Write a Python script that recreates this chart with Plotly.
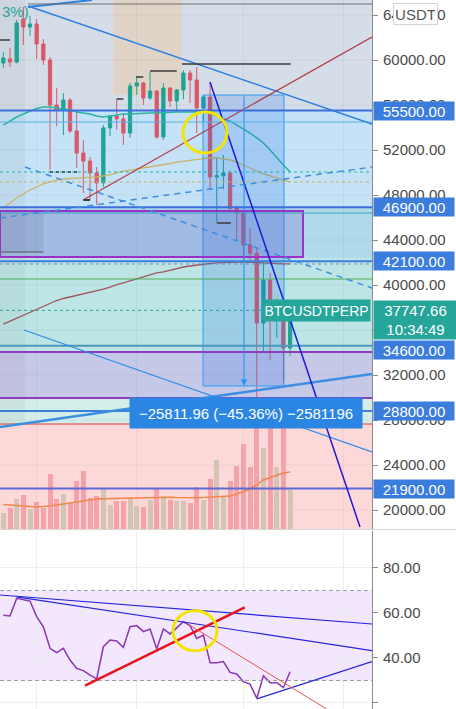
import pandas as pd
import plotly.graph_objects as go

# ---------------- data ----------------
dates = pd.date_range("2021-04-11", periods=44, freq="D")
opens = [59730, 60090, 59820, 63640, 62930, 63200, 61420, 60000, 56000, 55560,
         56440, 53690, 51730, 51020, 49960, 49070, 53960, 55020, 54760, 53510,
         57690, 57960, 56620, 57240, 53160, 57510, 56360, 57330, 58840, 58220,
         55730, 56710, 49600, 49700, 49950, 46800, 46400, 43560, 42840, 36620,
         40440, 37300, 37500, 34400]
highs = [60710, 61070, 63560, 64710, 63910, 63640, 61870, 60270, 57510, 57070,
         56620, 55380, 52890, 51380, 50490, 54220, 55110, 56530, 55290, 57960,
         58490, 58040, 58930, 57330, 57960, 57600, 57420, 59110, 59110, 59380,
         56890, 58040, 51380, 51560, 50150, 47000, 46490, 45070, 43300, 42040,
         41070, 38800, 38300, 38300]
lows = [59290, 59380, 59700, 61330, 62130, 60090, 59560, 50200, 54130, 53330,
        53510, 50400, 48180, 47560, 47110, 48710, 53240, 53780, 52440, 53070,
        56890, 56000, 56440, 52980, 52890, 55820, 55380, 56500, 56180, 53510,
        54400, 48440, 45600, 48500, 46670, 43900, 42220, 42220, 30000, 33960,
        33330, 35300, 31300, 33700]
closes = [60180, 59820, 63290, 62930, 63200, 61420, 60000, 56000, 55560, 56440,
          53690, 51730, 51020, 49960, 49070, 53960, 55020, 54760, 53510, 57690,
          57960, 56620, 57240, 53160, 57510, 56360, 57330, 58840, 58220, 55730,
          56710, 49600, 49700, 49950, 46800, 46400, 43560, 42840, 36620, 40440,
          37300, 37500, 34400, 37747.66]
volume_k = [163, 213, 297, 340, 203, 270, 213, 553, 297, 347,
            270, 480, 580, 313, 330, 407, 240, 280, 280, 307,
            230, 220, 293, 407, 330, 293, 280, 280, 260, 420,
            293, 500, 690, 320, 480, 630, 850, 620, 1150, 810,
            1020, 620, 1040, 390]
volume_ma_k = [245, 240, 235, 230, 225, 220, 225, 230, 240, 250,
               260, 270, 280, 290, 300, 302, 304, 306, 308, 310,
               312, 314, 316, 318, 320, 318, 315, 312, 310, 313,
               316, 320, 323, 326, 330, 350, 375, 400, 440, 490,
               515, 540, 560, 570]
ma_fast = [54220, 54580, 54930, 55200, 55470, 55690, 55820, 55820, 55730, 55640,
           55560, 55380, 55290, 55200, 55020, 54930, 55020, 55110, 55200, 55200,
           55240, 55290, 55290, 55290, 55330, 55380, 55380, 55380, 55380, 55380,
           55380, 55290, 55020, 54760, 54580, 54220, 53870, 53510, 53070, 52620,
           52000, 51380, 50670, 50040]
ma_mid = [46840, 47290, 47730, 48090, 48440, 48710, 48980, 49160, 49330, 49420,
          49470, 49510, 49510, 49560, 49600, 49690, 49780, 49960, 50130, 50220,
          50310, 50400, 50490, 50580, 50670, 50800, 50930, 51020, 51110, 51200,
          51240, 51290, 51290, 51200, 51110, 50930, 50670, 50400, 50130, 49870,
          49690, 49510, 49330, 49160]
ma_slow = [36530, 36800, 37070, 37330, 37600, 37870, 38130, 38400, 38620, 38800,
           38930, 39110, 39240, 39380, 39470, 39640, 39820, 40040, 40180, 40360,
           40530, 40710, 40890, 41070, 41160, 41330, 41470, 41600, 41690, 41780,
           41870, 41910, 41960, 42000, 42040, 42040, 42040, 42040, 42000, 41960,
           41960, 41910, 41870, 41870]
rsi = [59.0, 58.7, 66.5, 65.8, 65.3, 58.4, 53.9, 44.3, 42.4, 44.3,
       39.1, 35.4, 34.4, 32.4, 30.7, 45.0, 48.0, 47.6, 44.7, 53.9,
       54.4, 51.7, 52.9, 44.0, 52.9, 50.7, 53.6, 56.1, 54.4, 48.7,
       50.2, 37.9, 37.9, 38.4, 33.6, 32.9, 29.5, 28.4, 22.1, 32.1,
       29.0, 29.0, 26.8, 33.9]
level_labels = [55500, 46900, 42100, 34600, 28800, 21900]
last_price = 37747.66
countdown = "10:34:49"
symbol = "BTCUSDTPERP"
range_text = "−25811.96 (−45.36%) −2581196"
price_ticks = list(range(20000, 64001, 4000))
rsi_ticks = [20, 40, 60, 80]
grid_dates = ["2021-04-16", "2021-05-01", "2021-05-17", "2021-06-01"]

# ---------------- drawings (in date-index / price space) ----------------
zones = [(55500, 65333, "#d5dee8"), (46900, 55500, "#c5e2f7"),
         (42400, 46900, "#b0d9ea"), (34000, 42400, "#bde5e5"),
         (29956, 34000, "#c6c8e8"), (27644, 29956, "#d3eeea"),
         (18311, 27644, "#fdd8d8")]
hlines = [(55500, "#3a6fdc", 2, "solid"), (54489, "#5aaee8", 1, "solid"),
          (46900, "#3a6fdc", 2, "solid"), (46400, "#3aa3c6", 1, "solid"),
          (42100, "#3a7fdc", 2, "solid"), (41867, "#7a8aa0", 1, "dot"),
          (40533, "#4caf50", 1, "solid"), (last_price, "#26a69a", 1, "dot"),
          (34600, "#4f96bd", 2, "solid"), (34044, "#8e3bbd", 2, "solid"),
          (29956, "#8e3bbd", 2, "solid"), (28800, "#3a7fdc", 2, "solid"),
          (27644, "#e53935", 1, "solid"), (21900, "#5b68d6", 2, "solid"),
          (50044, "#1fb5a5", 1, "dot"), (49156, "#c8b060", 1, "dot")]
trendlines = [((3.70, 64800), (55.28, 54311), "#2e7fe0", 1.5, "solid"),
              ((3.70, 64711), (13.3, 65333), "#2e7fe0", 2, "solid"),
              ((-0.5, 27377), (55.28, 32089), "#3b8ee0", 2.5, "solid"),
              ((3.10, 36000), (55.28, 25155), "#2f8be6", 1.3, "solid"),
              ((3.25, 50489), (55.28, 39733), "#3d8fe0", 1.5, "6px,5px"),
              ((-0.5, 45955), (55.28, 50489), "#3d8fe0", 1.5, "6px,5px"),
              ((11.95, 47555), (55.28, 62044), "#b23a48", 1.2, "solid"),
              ((30.99, 58044), (53.48, 18489), "#1c1ad8", 1.5, "solid")]
pivots = [((-0.5, 61778), (1.0, 61778), "#3a3a3a", 1.5, "solid"),
          ((17.0, 56533), (18.0, 56533), "#3a3a3a", 1.5, "solid"),
          ((19.9, 58489), (21.0, 58489), "#3a3a3a", 1.5, "solid"),
          ((22.0, 59022), (26.0, 59022), "#3a3a3a", 1.5, "solid"),
          ((26.8, 59644), (43.1, 59644), "#3a3a3a", 1.5, "solid"),
          ((7.0, 50044), (11.2, 50044), "#3a3a3a", 1.5, "dot"),
          ((12.0, 47556), (13.0, 47556), "#3a3a3a", 2, "solid"),
          ((32.0, 45511), (34.1, 45511), "#3a3a3a", 1.5, "solid"),
          ((3.7, 64978), (55.28, 64978), "#707070", 1, "solid"),
          ((-0.5, 42933), (6.0, 42933), "#6c7280", 1.5, "solid")]
rsi_lines = [((-0.5, 68.0), (55.28, 55.1), "#2626d9", 1.2),
             ((2.0, 67.2), (55.28, 43.3), "#2626d9", 1.2),
             ((38.0, 21.8), (55.28, 38.4), "#2626d9", 1.2),
             ((12.25, 27.7), (36.2, 62.5), "#e8141c", 2.5),
             ((27.5, 55.4), (48.5, 17.3), "#e8534a", 1)]
measure_box = (29.94, 42.08, 31022, 56889)
purple_box = (-0.5, 44.93, 42489, 46578)
gray_box = (-0.5, 6.0, 42933, 46400)
circle_price = (26.94, 33.54, 51733, 55378)
circle_rsi = (25.44, 32.04, 43.2, 61.0)

# ---------------- geometry ----------------
W, H = 456, 709
AX_X = 372
P_RANGE = [18311, 65333]
R_RANGE = [17.33, 96.44]
BASE = pd.Timestamp("2021-04-11")
X0, X1 = -0.5, 55.28
FONT = "Liberation Sans, Arial, sans-serif"


def kd(k):
    return (BASE + pd.Timedelta(days=k)).strftime("%Y-%m-%d %H:%M:%S")


shapes = []


def line(a, b, color, width, dash="solid", xref="x", yref="y", layer="above"):
    shapes.append(dict(type="line", xref=xref, yref=yref, x0=kd(a[0]), y0=a[1],
                       x1=kd(b[0]), y1=b[1], layer=layer,
                       line=dict(color=color, width=width, dash=dash)))


def rect(k0, k1, p0, p1, fill, lcolor=None, lwidth=0, xref="x", yref="y", layer="below"):
    shapes.append(dict(type="rect", xref=xref, yref=yref, x0=kd(k0), x1=kd(k1),
                       y0=p0, y1=p1, fillcolor=fill, layer=layer,
                       line=dict(color=lcolor or "rgba(0,0,0,0)", width=lwidth)))


# background zones
for lo, hi, col in zones:
    rect(X0, X1, lo, hi, col)
rect(X0, 3.25, 27644, 65333, "rgba(110,120,110,0.08)")
rect(16.45, 26.8, 56889, 65333, "rgba(235,200,160,0.45)")
for g in grid_dates:
    k = (pd.Timestamp(g) - BASE).days
    line((k, P_RANGE[0]), (k, P_RANGE[1]), "rgba(0,0,0,0.05)", 1, layer="below")
for t in price_ticks:
    line((X0, t), (X1, t), "rgba(0,0,0,0.04)", 1, layer="below")

# overlays above candles
mk0, mk1, mp0, mp1 = measure_box
rect(mk0, mk1, mp0, mp1, "rgba(30,110,230,0.2)", "rgba(33,150,243,0.9)", 1, layer="above")
pk0, pk1, pp0, pp1 = purple_box
rect(pk0, pk1, pp0, pp1, "rgba(110,80,200,0.22)", "#9b30c8", 2, layer="above")
gk0, gk1, gp0, gp1 = gray_box
rect(gk0, gk1, gp0, gp1, "rgba(90,95,110,0.14)", layer="above")
for p, col, w, d in hlines:
    line((X0, p), (X1, p), col, w, d)
for a, b, col, w, d in trendlines + pivots:
    line(a, b, col, w, d)
ck0, ck1, cp0, cp1 = circle_price
shapes.append(dict(type="circle", xref="x", yref="y", x0=kd(ck0), x1=kd(ck1),
                   y0=cp0, y1=cp1, line=dict(color="#f2e600", width=3)))

# RSI pane drawings
rect(X0, X1, 30, 70, "rgba(149,60,230,0.12)", xref="x2", yref="y2")
for lv in (70, 30):
    line((X0, lv), (X1, lv), "#9e9e9e", 1, "4px,3px", xref="x2", yref="y2")
for a, b, col, w in rsi_lines:
    line(a, b, col, w, xref="x2", yref="y2")
rk0, rk1, rp0, rp1 = circle_rsi
shapes.append(dict(type="circle", xref="x2", yref="y2", x0=kd(rk0), x1=kd(rk1),
                   y0=rp0, y1=rp1, line=dict(color="#f2e600", width=3)))
# pane separator
shapes.append(dict(type="line", xref="paper", yref="paper", x0=0, x1=1,
                   y0=1 - 529.5 / H, y1=1 - 529.5 / H,
                   line=dict(color="#d6d6d6", width=1)))

# ---------------- traces ----------------
fig = go.Figure()
vol_colors = ["#d4c4b4" if c >= o else "#f5a3ab" for o, c in zip(opens, closes)]
fig.add_trace(go.Bar(x=dates, y=volume_k, marker=dict(color=vol_colors, line=dict(width=0)),
                     width=0.75 * 86400000, xaxis="x", yaxis="y3"))
fig.add_trace(go.Scatter(x=dates, y=volume_ma_k, mode="lines",
                         line=dict(color="#f0884a", width=1.5), xaxis="x", yaxis="y3"))
fig.add_trace(go.Scatter(x=dates, y=ma_slow, mode="lines",
                         line=dict(color="#a0565e", width=1.3), xaxis="x", yaxis="y"))
fig.add_trace(go.Scatter(x=dates, y=ma_mid, mode="lines",
                         line=dict(color="#c9b46a", width=1.3), xaxis="x", yaxis="y"))
fig.add_trace(go.Scatter(x=dates, y=ma_fast, mode="lines",
                         line=dict(color="#2bb5a0", width=1.5), xaxis="x", yaxis="y"))
fig.add_trace(go.Candlestick(
    x=dates, open=opens, high=highs, low=lows, close=closes,
    increasing=dict(line=dict(color="#1fa393", width=1), fillcolor="#1fa393"),
    decreasing=dict(line=dict(color="#d9596a", width=1), fillcolor="#d9596a"),
    whiskerwidth=0, xaxis="x", yaxis="y"))
fig.add_trace(go.Scatter(x=dates, y=rsi, mode="lines",
                         line=dict(color="#8b35b5", width=1.5), xaxis="x2", yaxis="y2"))

# ---------------- annotations ----------------
ann = []
LX = (AX_X + 1) / W
for lv in level_labels:
    ann.append(dict(xref="paper", yref="y", x=LX, y=lv, xanchor="left", yanchor="middle",
                    yshift=-4 if lv == 34600 else 0,
                    text=f"{lv:.2f}", showarrow=False, bgcolor="#3b7ddd",
                    font=dict(family=FONT, size=15, color="white"),
                    width=76, height=14, borderpad=2))
ann.append(dict(xref="paper", yref="y", x=LX, y=last_price, xanchor="left", yanchor="top",
                yshift=10, text=f"{last_price:.2f}<br>{countdown}", showarrow=False,
                bgcolor="#26a69a", font=dict(family=FONT, size=15, color="white"),
                width=79, height=34, borderpad=2))
ann.append(dict(xref="paper", yref="y", x=316.5 / W, y=last_price, xanchor="center",
                yanchor="middle", text=symbol, showarrow=False, bgcolor="#26a69a",
                font=dict(family=FONT, size=14, color="white"), width=103, height=17,
                borderpad=2))
ann.append(dict(xref="paper", yref="paper", x=415.5 / W, y=1 - 14 / H, xanchor="center",
                yanchor="middle", text="USDT", showarrow=False, bgcolor="white",
                bordercolor="#d1d4dc", borderwidth=1,
                font=dict(family=FONT, size=15, color="#555"), width=39, height=16,
                borderpad=2))
ann.append(dict(xref="paper", yref="paper", x=0, y=1 - 12 / H, xanchor="left",
                yanchor="middle", text="3%)", showarrow=False,
                font=dict(family=FONT, size=15, color="#26a69a")))
ann.append(dict(xref="paper", yref="paper", x=246 / W, y=1 - 413 / H, xanchor="center",
                yanchor="middle", text=range_text, showarrow=False, bgcolor="#2b86e3",
                font=dict(family=FONT, size=15, color="white"), width=226, height=24,
                borderpad=3))
arrow_k = 36.1
ann.append(dict(xref="x", yref="y", x=kd(arrow_k), y=mp0, axref="x", ayref="y",
                ax=kd(arrow_k), ay=mp1, text="", showarrow=True, arrowhead=2,
                arrowsize=1.3, arrowwidth=1, arrowcolor="#2196f3"))

axis_common = dict(side="right", ticks="outside", ticklen=5, tickcolor="#8c8c8c",
                   showline=True, linecolor="#8c8c8c", linewidth=1, zeroline=False,
                   tickformat=".2f", ticklabelstandoff=2,
                   tickfont=dict(family=FONT, size=15, color="#4a4a4a"))

fig.update_layout(
    width=W, height=H, margin=dict(l=0, r=0, t=0, b=0),
    paper_bgcolor="white", plot_bgcolor="white", showlegend=False,
    hovermode=False, dragmode=False, bargap=0,
    shapes=shapes, annotations=ann,
    xaxis=dict(domain=[0, AX_X / W], range=[kd(X0), kd(X1)], type="date", anchor="y",
               showticklabels=False, showgrid=False, zeroline=False,
               rangeslider=dict(visible=False)),
    xaxis2=dict(domain=[0, AX_X / W], matches="x", type="date", anchor="y2",
                showticklabels=False, showgrid=True, gridcolor="#eceef2",
                tickvals=grid_dates, zeroline=False),
    yaxis=dict(domain=[1 - 529 / H, 1], range=P_RANGE, anchor="x", tickvals=price_ticks,
               showgrid=False, **axis_common),
    yaxis2=dict(domain=[0, 1 - 531 / H], range=R_RANGE, anchor="x2", tickvals=rsi_ticks,
                showgrid=True, gridcolor="#eceef2", **axis_common),
    yaxis3=dict(overlaying="y", range=[0, 5290], visible=False, anchor="x"),
)

fig.write_html("out.html", config={"displayModeBar": False},
               post_script="document.body.style.margin='0px';document.body.style.overflow='hidden';")
